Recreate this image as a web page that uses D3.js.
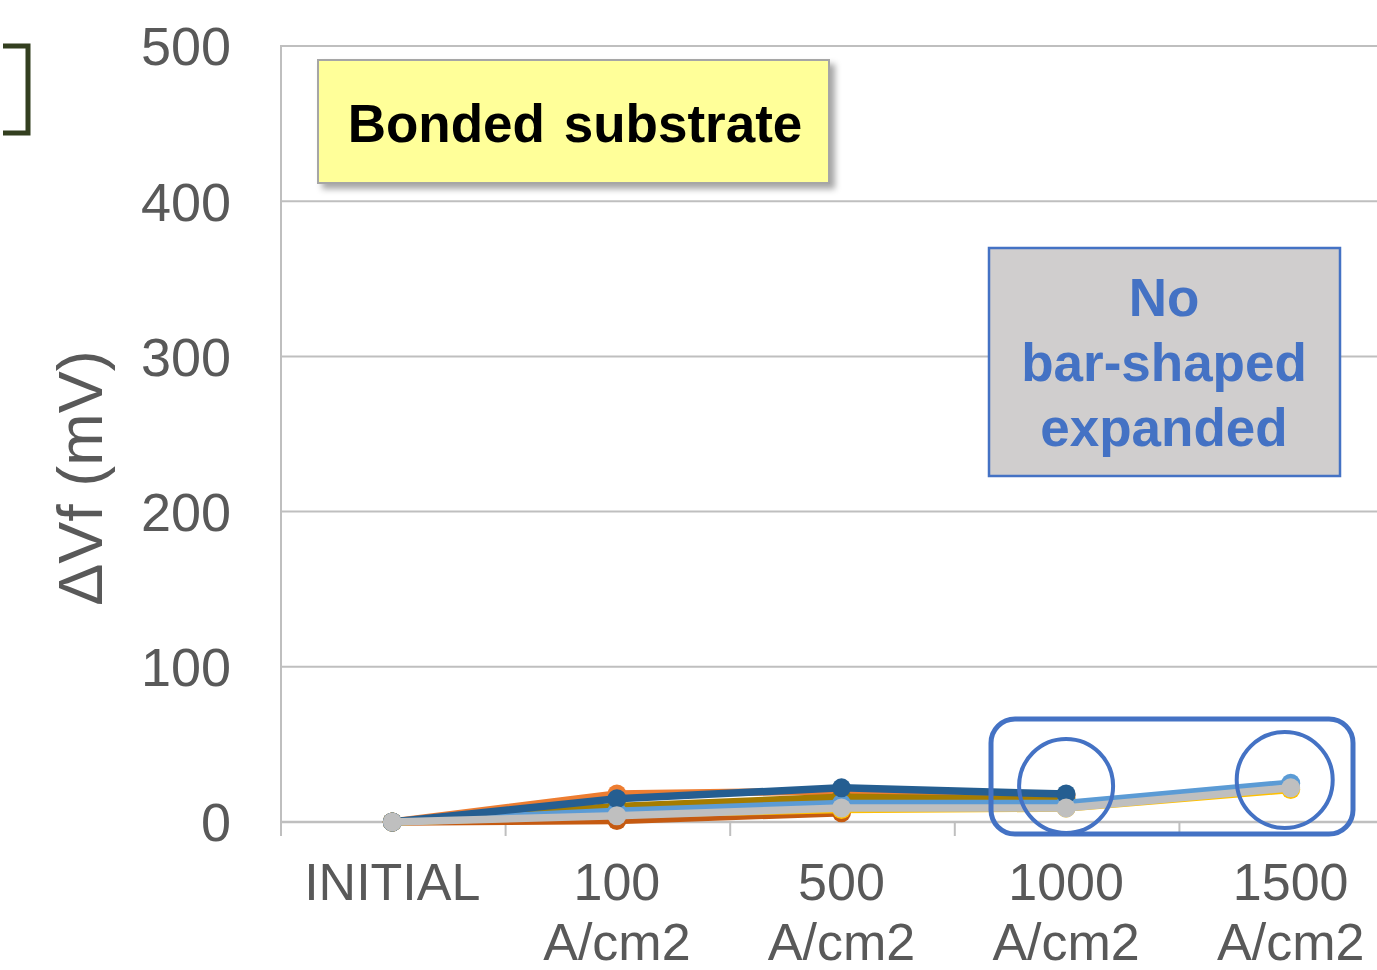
<!DOCTYPE html>
<html>
<head>
<meta charset="utf-8">
<script src="https://cdn.jsdelivr.net/npm/d3@7"></script>
<style>
  html, body { margin: 0; padding: 0; background: #fff; }
  svg { display: block; font-family: "Liberation Sans", Arial, sans-serif; }
</style>
</head>
<body>
<svg id="chart" width="1377" height="970"></svg>
<script>
// Stress steps along the x axis
const categories = ["INITIAL", "100 A/cm2", "500 A/cm2", "1000 A/cm2", "1500 A/cm2"];
const yTicks = [0, 100, 200, 300, 400, 500];

// ΔVf per device (mV); devices stop where they were no longer measured
const seriesOrange     = [0, 18, 20, 17];
const seriesDarkOrange = [0, 1, 6];
const seriesYellow     = [0, 5, 8, 9, 21];
const seriesGold       = [0, 10, 16, 14];
const seriesLightBlue  = [0, 7, 12, 12, 25];
const seriesDarkBlue   = [0, 15, 22, 18];
const seriesGrey       = [0, 4, 9, 9, 22];

const seriesList = [
  { values: seriesOrange,     color: "#ED7D31" },
  { values: seriesDarkOrange, color: "#C55A11" },
  { values: seriesYellow,     color: "#FFC000" },
  { values: seriesGold,       color: "#A57C00" },
  { values: seriesLightBlue,  color: "#5B9BD5" },
  { values: seriesDarkBlue,   color: "#255E91" },
  { values: seriesGrey,       color: "#BFBFBF" }
];

const svg = d3.select("#chart");
const plot = { left: 280, top: 46, bottom: 822, band: 224.6 };

const x = d3.scaleBand()
  .domain(categories)
  .range([plot.left, plot.left + plot.band * categories.length])
  .paddingInner(0).paddingOuter(0);
const cx = c => x(c) + x.bandwidth() / 2;

const y = d3.scaleLinear().domain([0, 500]).range([plot.bottom, plot.top]);

const defs = svg.append("defs");
const shadow = defs.append("filter").attr("id", "boxShadow")
  .attr("x", "-10%").attr("y", "-20%").attr("width", "130%").attr("height", "150%");
shadow.append("feDropShadow")
  .attr("dx", 5).attr("dy", 5).attr("stdDeviation", 3)
  .attr("flood-color", "#000").attr("flood-opacity", 0.35);

// Horizontal gridlines
svg.append("g").selectAll("line")
  .data(yTicks.filter(t => t > 0))
  .join("line")
  .attr("x1", plot.left).attr("x2", 1377)
  .attr("y1", d => y(d)).attr("y2", d => y(d))
  .attr("stroke", "#BFBFBF").attr("stroke-width", 2);

// Y axis line
svg.append("line")
  .attr("x1", plot.left + 1).attr("x2", plot.left + 1)
  .attr("y1", y(500)).attr("y2", y(0) + 14)
  .attr("stroke", "#BFBFBF").attr("stroke-width", 2);

// X axis line and category boundary ticks
svg.append("line")
  .attr("x1", plot.left).attr("x2", 1377)
  .attr("y1", y(0)).attr("y2", y(0))
  .attr("stroke", "#BFBFBF").attr("stroke-width", 2.5);
svg.append("g").selectAll("line")
  .data(categories)
  .join("line")
  .attr("x1", d => x(d) + 1).attr("x2", d => x(d) + 1)
  .attr("y1", y(0)).attr("y2", y(0) + 14)
  .attr("stroke", "#BFBFBF").attr("stroke-width", 2);

// Y tick labels
svg.append("g").selectAll("text")
  .data(yTicks)
  .join("text")
  .attr("x", 231).attr("y", d => y(d))
  .attr("dy", "0.36em")
  .attr("text-anchor", "end")
  .attr("font-size", 54)
  .attr("fill", "#595959")
  .text(d => d);

// X tick labels (split on the space into two lines)
const xl = svg.append("g").selectAll("text")
  .data(categories)
  .join("text")
  .attr("text-anchor", "middle")
  .attr("font-size", 52)
  .attr("fill", "#595959");
xl.each(function(d) {
  const parts = d.split(" ");
  const t = d3.select(this);
  parts.forEach((p, i) => {
    t.append("tspan").attr("x", cx(d)).attr("y", 900 + i * 60).text(p);
  });
});

// Y axis title
svg.append("text")
  .attr("transform", "translate(102,478) rotate(-90)")
  .attr("text-anchor", "middle")
  .attr("font-size", 63)
  .attr("fill", "#595959")
  .text("ΔVf (mV)");

// Series lines and markers
const line = d3.line()
  .x((d, i) => cx(categories[i]))
  .y(d => y(d));

seriesList.forEach(s => {
  const g = svg.append("g");
  g.append("path")
    .datum(s.values)
    .attr("d", line)
    .attr("fill", "none")
    .attr("stroke", s.color)
    .attr("stroke-width", 7.5)
    .attr("stroke-linejoin", "round");
  g.selectAll("circle")
    .data(s.values)
    .join("circle")
    .attr("cx", (d, i) => cx(categories[i]))
    .attr("cy", d => y(d))
    .attr("r", 9.5)
    .attr("fill", s.color);
});

// Bracket fragment at top-left
svg.append("path")
  .attr("d", "M3,46 H28 V133 H3")
  .attr("fill", "none")
  .attr("stroke", "#333F1F")
  .attr("stroke-width", 5);

// "Bonded substrate" callout
svg.append("rect")
  .attr("x", 318).attr("y", 60).attr("width", 511).attr("height", 123)
  .attr("fill", "#FFFF99")
  .attr("stroke", "#A6A6A6").attr("stroke-width", 2)
  .attr("filter", "url(#boxShadow)");
svg.append("text")
  .attr("x", 575).attr("y", 142)
  .attr("text-anchor", "middle")
  .attr("font-size", 53).attr("font-weight", "bold")
  .attr("fill", "#000")
  .attr("word-spacing", 4)
  .text("Bonded substrate");

// "No bar-shaped expanded" callout
svg.append("rect")
  .attr("x", 989).attr("y", 248).attr("width", 351).attr("height", 228)
  .attr("fill", "#D0CECE")
  .attr("stroke", "#4472C4").attr("stroke-width", 2.5);
const noteLines = ["No", "bar-shaped", "expanded"];
svg.append("g").selectAll("text")
  .data(noteLines)
  .join("text")
  .attr("x", 1164).attr("y", (d, i) => 316 + i * 65)
  .attr("text-anchor", "middle")
  .attr("font-size", 53).attr("font-weight", "bold")
  .attr("fill", "#4472C4")
  .text(d => d);

// Highlight of the last two stress steps
svg.append("rect")
  .attr("x", 991).attr("y", 719).attr("width", 362).attr("height", 115)
  .attr("rx", 24).attr("ry", 24)
  .attr("fill", "none")
  .attr("stroke", "#4472C4").attr("stroke-width", 5);
svg.append("circle")
  .attr("cx", cx(categories[3])).attr("cy", 786).attr("r", 47)
  .attr("fill", "none").attr("stroke", "#4472C4").attr("stroke-width", 4);
svg.append("circle")
  .attr("cx", cx(categories[4]) - 6).attr("cy", 780).attr("r", 48)
  .attr("fill", "none").attr("stroke", "#4472C4").attr("stroke-width", 4);
</script>
</body>
</html>
